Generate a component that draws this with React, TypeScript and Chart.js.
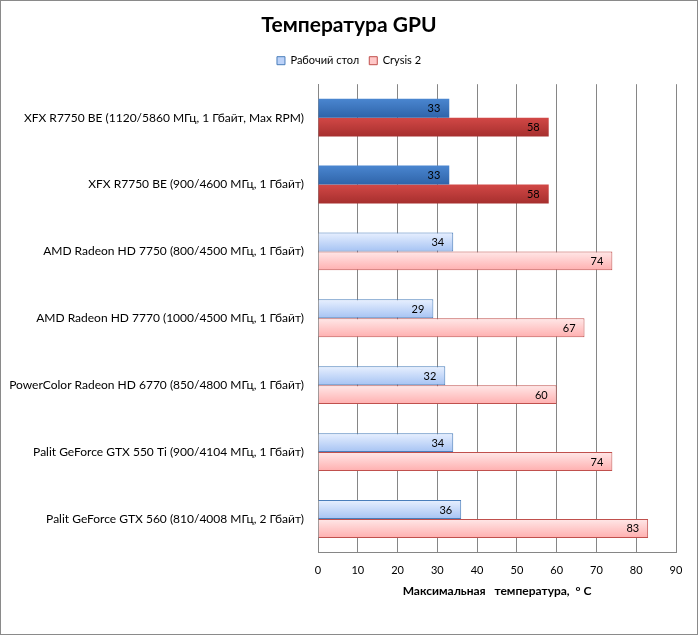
import { useEffect, useRef } from "react"
import { Chart, registerables } from "chart.js"

Chart.register(...registerables)

const categories = [
  "XFX R7750 BE (1120/5860 МГц, 1 Гбайт, Max RPM)",
  "XFX R7750 BE (900/4600 МГц, 1 Гбайт)",
  "AMD Radeon HD 7750 (800/4500 МГц, 1 Гбайт)",
  "AMD Radeon HD 7770 (1000/4500 МГц, 1 Гбайт)",
  "PowerColor Radeon HD 6770 (850/4800 МГц, 1 Гбайт)",
  "Palit GeForce GTX 550 Ti (900/4104 МГц, 1 Гбайт)",
  "Palit GeForce GTX 560 (810/4008 МГц, 2 Гбайт)",
]
const desktopTemps = [33, 33, 34, 29, 32, 34, 36]
const crysisTemps = [58, 58, 74, 67, 60, 74, 83]
const seriesNames = ["Рабочий стол", "Crysis 2"]
// the tested card rows are drawn in the darker colours
const highlighted = [true, true, false, false, false, false, false]

const palette = {
  blue: { dark: ["#4a86d0", "#2f64a9"], light: ["#e8f0ff", "#a6c3f3"], border: "#4a7ebb" },
  red: { dark: ["#d24846", "#a62f2e"], light: ["#ffe8e8", "#ffafaf"], border: "#c0504d" },
}

type Tone = typeof palette.blue

function barFill(tone: Tone, datasetIndex: number) {
  return (c: any) => {
    const chart = c.chart
    const area = chart.chartArea
    const y = chart.scales.y
    const dark = highlighted[c.dataIndex]
    const stops = dark ? tone.dark : tone.light
    if (!area || !y || c.dataIndex === undefined) return stops[1]
    const band = (area.bottom - area.top) / categories.length
    const h = (band * 0.566) / 2
    const center = y.getPixelForValue(c.dataIndex)
    const top = datasetIndex === 0 ? center - h : center
    const g = chart.ctx.createLinearGradient(0, top, 0, top + h)
    g.addColorStop(0, stops[0])
    g.addColorStop(1, stops[1])
    return g
  }
}

const valueLabels = {
  id: "valueLabels",
  afterDatasetsDraw(chart: Chart) {
    const ctx = chart.ctx
    ctx.save()
    ctx.font = "11px Lato"
    ctx.fillStyle = "#000"
    ctx.textAlign = "right"
    ctx.textBaseline = "middle"
    chart.data.datasets.forEach((ds, i) => {
      chart.getDatasetMeta(i).data.forEach((bar: any, j) => {
        ctx.fillText(String(ds.data[j]), bar.x - 9, bar.y + 0.5)
      })
    })
    ctx.restore()
  },
}

// extra room under the legend, and title/legend centred on the whole canvas
const headerLayout = {
  id: "headerLayout",
  beforeUpdate(chart: any) {
    const legend = chart.legend
    if (legend && !legend._gapPatched) {
      const fit = legend.fit
      legend.fit = function () {
        fit.call(this)
        this.height += 8
      }
      legend._gapPatched = true
    }
  },
  afterLayout(chart: any) {
    for (const box of [chart.legend, chart.titleBlock]) {
      if (!box) continue
      box.left = 0
      box.right = chart.width
      box.width = chart.width
    }
  },
}

export default function App() {
  const canvasRef = useRef<HTMLCanvasElement>(null)
  const chartRef = useRef<Chart | null>(null)

  useEffect(() => {
    if (!canvasRef.current) return
    if (chartRef.current) chartRef.current.destroy()

    Chart.defaults.font.family = "Lato"
    Chart.defaults.color = "#000"

    chartRef.current = new Chart(canvasRef.current, {
      type: "bar",
      data: {
        labels: categories,
        datasets: [
          {
            label: seriesNames[0],
            data: desktopTemps,
            backgroundColor: barFill(palette.blue, 0),
            borderColor: palette.blue.border,
            borderWidth: (c: any) => (highlighted[c.dataIndex] ? 0 : 1),
            borderSkipped: "left",
          },
          {
            label: seriesNames[1],
            data: crysisTemps,
            backgroundColor: barFill(palette.red, 1),
            borderColor: palette.red.border,
            borderWidth: (c: any) => (highlighted[c.dataIndex] ? 0 : 1),
            borderSkipped: "left",
          },
        ],
      },
      options: {
        indexAxis: "y",
        responsive: true,
        maintainAspectRatio: false,
        animation: false,
        datasets: { bar: { categoryPercentage: 0.566, barPercentage: 1 } },
        layout: { padding: { left: 0, right: 21, top: 0, bottom: 36 } },
        plugins: {
          title: {
            display: true,
            text: "Температура GPU",
            color: "#000",
            font: { size: 21, weight: "bold" },
            padding: { top: 12, bottom: 7 },
          },
          legend: {
            position: "top",
            labels: {
              boxWidth: 8,
              boxHeight: 8,
              padding: 10,
              font: { size: 11 },
              generateLabels: () =>
                seriesNames.map((name, i) => ({
                  text: name,
                  fillStyle: i === 0 ? "#bcd2f8" : "#ffc8c8",
                  strokeStyle: i === 0 ? palette.blue.border : palette.red.border,
                  lineWidth: 1,
                  datasetIndex: i,
                  hidden: false,
                })),
            },
          },
          tooltip: { enabled: false },
        },
        scales: {
          x: {
            min: 0,
            max: 90,
            ticks: { stepSize: 10, padding: 2, font: { size: 11 } },
            grid: { color: "#868686", tickLength: 9, tickColor: "transparent" },
            border: { color: "#868686" },
            title: {
              display: true,
              text: "Максимальная   температура,  ° C",
              font: { size: 12, weight: "bold" },
              padding: { top: 5, bottom: 0 },
            },
          },
          y: {
            grid: { display: false },
            border: { color: "#868686" },
            ticks: { padding: 6, font: { size: 12 } },
            afterFit: (scale: any) => {
              scale.width = 317
            },
          },
        },
      },
      plugins: [valueLabels, headerLayout],
    })

    return () => {
      if (chartRef.current) chartRef.current.destroy()
    }
  }, [])

  return (
    <div
      style={{
        position: "absolute",
        left: 0,
        top: 0,
        width: 698,
        height: 635,
        boxSizing: "border-box",
        border: "1px solid #8a8a8a",
        background: "#fff",
      }}
    >
      <canvas ref={canvasRef} />
    </div>
  )
}
